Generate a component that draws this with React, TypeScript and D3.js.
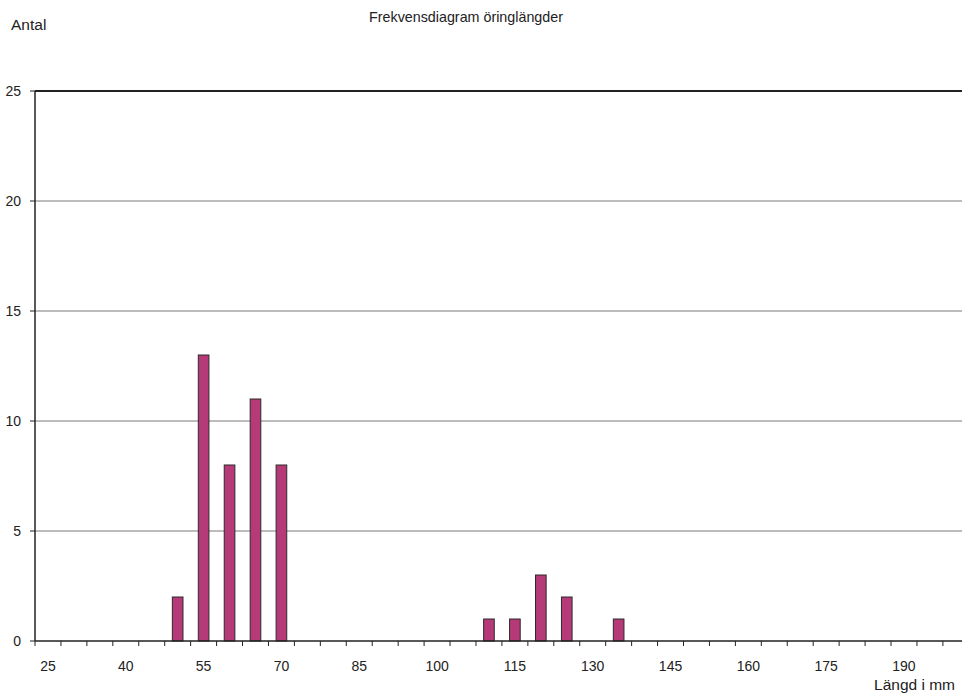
import React, { useEffect, useRef } from "react";
import * as d3 from "d3";

// lengths in mm (category per 5 mm), counts
const lengths = d3.range(25, 205, 5); // 25 .. 200, the last one runs past the picture
const measured = [50, 55, 60, 65, 70, 110, 115, 120, 125, 135];
const counts = [2, 13, 8, 11, 8, 1, 1, 3, 2, 1];
const yTicks = [0, 5, 10, 15, 20, 25];
const xLabels = [25, 40, 55, 70, 85, 100, 115, 130, 145, 160, 175, 190];

const W = 962;
const H = 697;
const left = 35;
const top = 91;
const bottom = 641;
const step = 25.94;

const App = () => {
  const ref = useRef<SVGGElement>(null);

  useEffect(() => {
    const g = d3.select(ref.current);
    g.selectAll("*").remove();

    const x = d3
      .scaleBand<number>()
      .domain(lengths)
      .range([left, left + step * lengths.length])
      .paddingInner(0.59)
      .paddingOuter(0.295);
    const y = d3.scaleLinear().domain([0, 25]).range([bottom, top]);

    // gridlines
    g.selectAll("line.grid")
      .data(yTicks.filter((t) => t > 0 && t < 25))
      .join("line")
      .attr("class", "grid")
      .attr("x1", left)
      .attr("x2", W)
      .attr("y1", (d) => y(d))
      .attr("y2", (d) => y(d))
      .attr("stroke", "#7a7a7a")
      .attr("stroke-width", 1);

    g.append("line")
      .attr("x1", left)
      .attr("x2", W)
      .attr("y1", y(25))
      .attr("y2", y(25))
      .attr("stroke", "#222")
      .attr("stroke-width", 2);

    // bars
    const data = measured.map((m, i) => ({ len: m, n: counts[i] }));
    g.selectAll("rect.bar")
      .data(data)
      .join("rect")
      .attr("class", "bar")
      .attr("x", (d) => x(d.len)!)
      .attr("width", x.bandwidth())
      .attr("y", (d) => y(d.n))
      .attr("height", (d) => y(0) - y(d.n))
      .attr("fill", "#b63a77")
      .attr("stroke", "#2b2b2b")
      .attr("stroke-width", 1);

    // y axis
    g.append("line")
      .attr("x1", left)
      .attr("x2", left)
      .attr("y1", top)
      .attr("y2", bottom)
      .attr("stroke", "#222")
      .attr("stroke-width", 1.5);
    g.selectAll("line.ytick")
      .data(yTicks)
      .join("line")
      .attr("class", "ytick")
      .attr("x1", left - 5)
      .attr("x2", left)
      .attr("y1", (d) => y(d))
      .attr("y2", (d) => y(d))
      .attr("stroke", "#222");
    g.selectAll("text.ylab")
      .data(yTicks)
      .join("text")
      .attr("class", "ylab")
      .attr("x", 21)
      .attr("y", (d) => y(d))
      .attr("dy", "0.36em")
      .attr("text-anchor", "end")
      .style("font-size", "14px")
      .text((d) => d);

    // x axis
    g.append("line")
      .attr("x1", left)
      .attr("x2", W)
      .attr("y1", bottom)
      .attr("y2", bottom)
      .attr("stroke", "#222")
      .attr("stroke-width", 1.5);
    g.selectAll("line.xtick")
      .data(lengths)
      .join("line")
      .attr("class", "xtick")
      .attr("x1", (d) => x(d)! - x.step() * x.paddingInner() / 2)
      .attr("x2", (d) => x(d)! - x.step() * x.paddingInner() / 2)
      .attr("y1", bottom)
      .attr("y2", bottom + 5)
      .attr("stroke", "#222");
    g.selectAll("text.xlab")
      .data(xLabels)
      .join("text")
      .attr("class", "xlab")
      .attr("x", (d) => x(d)! + x.bandwidth() / 2)
      .attr("y", 671)
      .attr("text-anchor", "middle")
      .style("font-size", "14px")
      .text((d) => d);
  }, []);

  return (
    <svg
      width={W}
      height={H}
      style={{ position: "absolute", left: 0, top: 0, fontFamily: "'Liberation Sans', Arial, sans-serif", fill: "#222" }}
    >
      <rect width={W} height={H} fill="#fff" />
      <text x={466} y={22} textAnchor="middle" fontSize={14.3} fill="#222">
        Frekvensdiagram öringlängder
      </text>
      <text x={11} y={30} fontSize={15.5} fill="#222">
        Antal
      </text>
      <text x={955} y={690} textAnchor="end" fontSize={15.5} fill="#222">
        Längd i mm
      </text>
      <g ref={ref} />
    </svg>
  );
};

export default App;
